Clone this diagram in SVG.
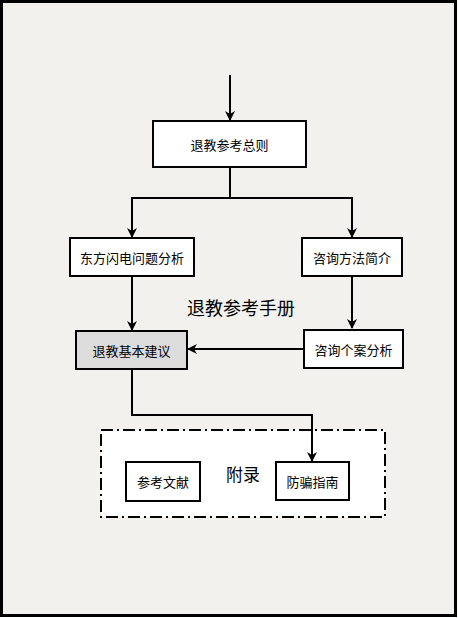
<svg xmlns="http://www.w3.org/2000/svg" width="458" height="618" viewBox="0 0 458 618">
<defs>
<marker id="ah" markerWidth="10" markerHeight="10" refX="9" refY="5" orient="auto" markerUnits="userSpaceOnUse">
<path d="M0,0 L10,5 L0,10 L3,5 Z" fill="#000"/>
</marker>
<style>
.box{fill:#fff;stroke:#000;stroke-width:2}
.t{font-family:"Noto Sans CJK SC","Noto Sans",sans-serif;font-size:13px;text-anchor:middle;dominant-baseline:central;fill:#000}
.c{fill:none;stroke:#000;stroke-width:2}
</style>
</defs>
<rect x="1.5" y="1.5" width="454" height="614" fill="#f2f1ed" stroke="#000" stroke-width="3"/>
<g id="appendix">
<rect x="101" y="430" width="284" height="87" fill="#fff" stroke="#000" stroke-width="2" stroke-dasharray="12,4,2,4"/>
<text x="243" y="473" class="t" style="font-size:17px">附录</text>
</g>
<text id="title" x="241" y="307" class="t" style="font-size:18px">退教参考手册</text>
<g id="connectors">
<path class="c" d="M230,75 V120" marker-end="url(#ah)"/>
<path class="c" d="M230,167 V198 H132 V237" marker-end="url(#ah)"/>
<path class="c" d="M230,198 H352 V237" marker-end="url(#ah)"/>
<path class="c" d="M132,276 V330" marker-end="url(#ah)"/>
<path class="c" d="M352,276 V328" marker-end="url(#ah)"/>
<path class="c" d="M304,349 H188" marker-end="url(#ah)"/>
<path class="c" d="M132,369 V415 H312 V461" marker-end="url(#ah)"/>
</g>
<g id="n1"><rect class="box" x="153" y="121" width="153" height="46"/><text class="t" x="229.5" y="144">退教参考总则</text></g>
<g id="n2"><rect class="box" x="70" y="238" width="124" height="38"/><text class="t" x="132" y="257">东方闪电问题分析</text></g>
<g id="n3"><rect class="box" x="302" y="238" width="100" height="38"/><text class="t" x="352" y="257">咨询方法简介</text></g>
<g id="n4"><rect class="box" x="76" y="331" width="111" height="38" style="fill:#dcdcdc"/><text class="t" x="131.5" y="350">退教基本建议</text></g>
<g id="n5"><rect class="box" x="304" y="330" width="99" height="38"/><text class="t" x="353.5" y="349">咨询个案分析</text></g>
<g id="n6"><rect class="box" x="126" y="462" width="74" height="39"/><text class="t" x="163" y="481.5">参考文献</text></g>
<g id="n7"><rect class="box" x="276" y="462" width="73" height="38"/><text class="t" x="312.5" y="481">防骗指南</text></g>
</svg>
